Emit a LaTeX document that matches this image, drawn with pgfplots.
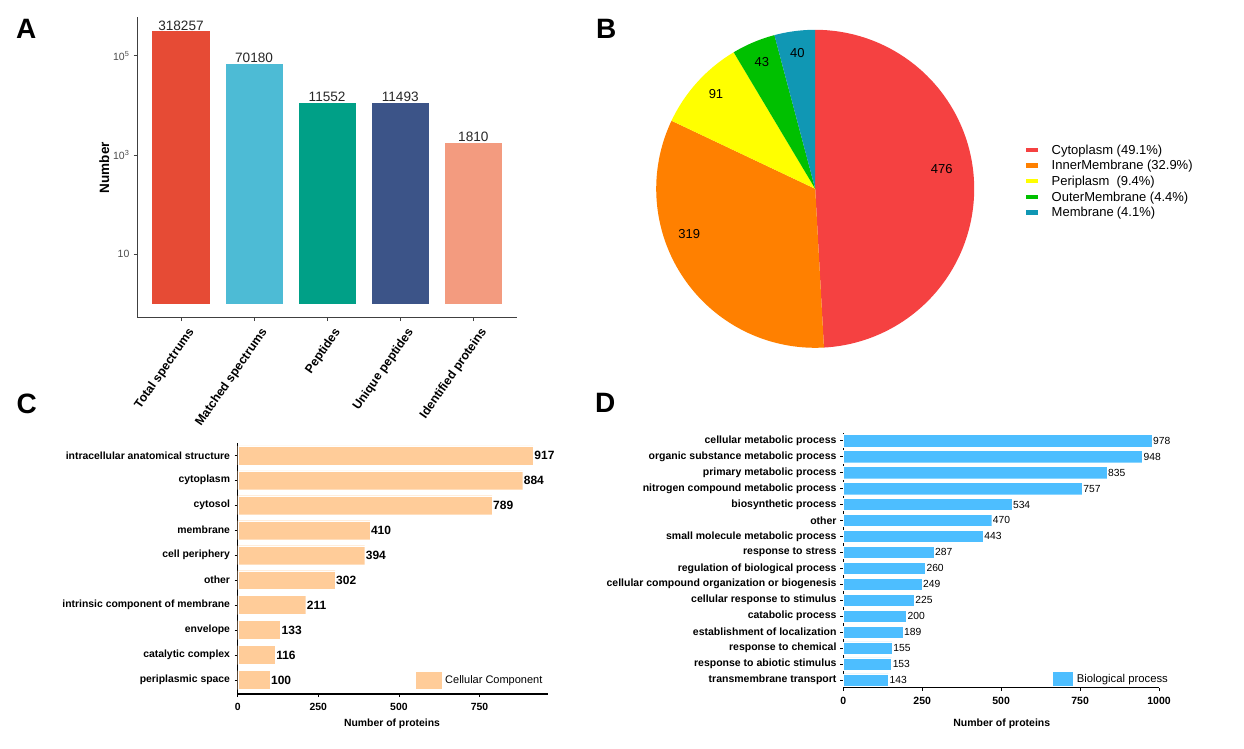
\documentclass[border=0pt]{standalone}
\usepackage{fontspec}
\setmainfont{Liberation Sans}
\usepackage{pgfplots}
\pgfplotsset{compat=1.18}
\pgfplotsset{/pgf/number format/assume math mode=true, /pgf/number format/1000 sep={}}
\newcommand{\fs}[1]{\fontsize{#1}{#1}\selectfont}

\definecolor{cA1}{HTML}{E64B35}
\definecolor{cA2}{HTML}{4DBBD5}
\definecolor{cA3}{HTML}{00A087}
\definecolor{cA4}{HTML}{3C5488}
\definecolor{cA5}{HTML}{F39B7F}
\definecolor{pRed}{HTML}{F54141}
\definecolor{pOrange}{HTML}{FF8000}
\definecolor{pYellow}{HTML}{FFFF00}
\definecolor{pGreen}{HTML}{00C000}
\definecolor{pBlue}{HTML}{1097B4}
\definecolor{cC}{HTML}{FFCC99}
\definecolor{cD}{HTML}{4DBEFF}

\begin{document}
\begin{tikzpicture}[x=1pt,y=1pt]
\useasboundingbox (0,0) rectangle (1244,748);

% panel letters
\foreach \l/\px/\py in {A/16/709.7, B/596/709.7, C/16.5/335, D/595/335.7}
  \node[anchor=base west, inner sep=0pt, font=\bfseries\fs{28}] at (\px,\py) {\l};

% ---------------- A: log bar chart ----------------
\begin{axis}[
  at={(137.1pt,430.3pt)}, anchor=south west,
  scale only axis, width=380.1pt, height=300.4pt,
  xmin=0.4, xmax=5.6,
  ymode=log, ymin=0.528, ymax=593000, log origin=0,
  axis lines=left, axis line style={-, draw=black!75, line width=1.2pt},
  tick align=outside, major tick length=3.5pt,
  tick style={draw=black!75, line width=0.9pt},
  minor tick style={draw=none}, minor tick length=0pt,
  xtick={1,2,3,4,5},
  xticklabels={Total spectrums, Matched spectrums, Peptides, Unique peptides, Identified proteins},
  xticklabel style={xshift=6pt, yshift=-5.5pt, rotate=55, anchor=north east, inner sep=0pt, font=\bfseries\fs{12.3}},
  ytick={10,1000,100000},
  yticklabels={10, 10\textsuperscript{3}, 10\textsuperscript{5}},
  yticklabel style={font=\fs{10.5}, text=black!70, inner sep=0pt, xshift=-4pt},
  ylabel={Number},
  ylabel style={font=\bfseries\fs{13.5}, at={(axis description cs:-0.0863,0.5)}, anchor=center},
  clip=false,
  nodes near coords, point meta=explicit symbolic,
  nodes near coords style={font=\fs{13.6}, text=black!85, anchor=south, inner sep=0.3pt},
]
\addplot[ybar, bar width=0.8, bar shift=0pt, fill=cA1, draw=white, line width=0.5pt] coordinates {(1,318257) [318257]};
\addplot[ybar, bar width=0.8, bar shift=0pt, fill=cA2, draw=white, line width=0.5pt] coordinates {(2,70180) [70180]};
\addplot[ybar, bar width=0.8, bar shift=0pt, fill=cA3, draw=white, line width=0.5pt] coordinates {(3,11552) [11552]};
\addplot[ybar, bar width=0.8, bar shift=0pt, fill=cA4, draw=white, line width=0.5pt] coordinates {(4,11493) [11493]};
\addplot[ybar, bar width=0.8, bar shift=0pt, fill=cA5, draw=white, line width=0.5pt] coordinates {(5,1810) [1810]};
\end{axis}

% ---------------- B: pie chart ----------------
\pgfmathsetmacro{\tot}{476+319+91+43+40}
\pgfmathsetmacro{\pa}{90}
\pgfmathsetmacro{\pb}{\pa-360*(476/\tot)}
\pgfmathsetmacro{\pc}{\pb-360*(319/\tot)}
\pgfmathsetmacro{\pd}{\pc-360*(91/\tot)}
\pgfmathsetmacro{\pe}{\pd-360*(43/\tot)}
\pgfmathsetmacro{\pf}{\pe-360*(40/\tot)}
\begin{axis}[
  at={(815.2pt,559.2pt)}, anchor=center,
  scale only axis, width=318pt, height=318pt,
  xmin=-1, xmax=1, ymin=-1, ymax=1,
  hide axis, clip=false,
  legend image code/.code={\fill[#1] (0pt,2.1pt) rectangle (12pt,6.5pt); \path[draw=none, fill=none] (0pt,0pt) -- (25.7pt,0pt);},
  legend cell align=left,
  legend style={draw=none, fill=none, at={(axis description cs:1.163,0.637)}, anchor=north west,
    inner sep=0pt, outer sep=0pt, row sep=3.6pt, column sep=0pt,
    nodes={inner sep=0pt, text height=9pt, text depth=3pt, font=\fs{13}, anchor=base west}},
]
\addplot[fill=pRed, draw=none, domain=\pb:\pa, samples=120] ({cos(x)},{sin(x)}) -- (axis cs:0,0) -- cycle;
\addplot[fill=pOrange, draw=none, domain=\pc:\pb, samples=90] ({cos(x)},{sin(x)}) -- (axis cs:0,0) -- cycle;
\addplot[fill=pYellow, draw=none, domain=\pd:\pc, samples=40] ({cos(x)},{sin(x)}) -- (axis cs:0,0) -- cycle;
\addplot[fill=pGreen, draw=none, domain=\pe:\pd, samples=30] ({cos(x)},{sin(x)}) -- (axis cs:0,0) -- cycle;
\addplot[fill=pBlue, draw=none, domain=\pf:\pe, samples=30] ({cos(x)},{sin(x)}) -- (axis cs:0,0) -- cycle;
\legend{Cytoplasm (49.1\%), InnerMembrane (32.9\%), Periplasm\hspace{7pt}(9.4\%), OuterMembrane (4.4\%), Membrane\hspace{3pt}(4.1\%)}
\node[font=\fs{13}] at (axis cs:0.796,0.123) {476};
\node[font=\fs{13}] at (axis cs:-0.792,-0.286) {319};
\node[font=\fs{13}] at (axis cs:-0.624,0.596) {91};
\node[font=\fs{13}] at (axis cs:-0.336,0.795) {43};
\node[font=\fs{13}] at (axis cs:-0.112,0.852) {40};
\end{axis}

% ---------------- C: cellular component ----------------
\begin{axis}[
  at={(237.7pt,54pt)}, anchor=south west,
  scale only axis, width=310.6pt, height=250.7pt,
  xmin=0, xmax=963.4, ymin=0.44, ymax=10.48,
  axis lines=left, axis line style={-, draw=black, line width=1.2pt},
  tick align=outside, major tick length=3pt,
  tick style={draw=black, line width=0.8pt},
  scaled ticks=false,
  xtick={0,250,500,750}, ytick={1,...,10},
  yticklabels={periplasmic space, catalytic complex, envelope, intrinsic component of membrane, other, cell periphery, membrane, cytosol, cytoplasm, intracellular anatomical structure},
  ticklabel style={font=\bfseries\fs{10.4}},
  yticklabel style={inner sep=0pt, xshift=-4.5pt},
  xticklabel style={inner sep=0pt, yshift=-6.5pt},
  xlabel={Number of proteins},
  xlabel style={font=\bfseries\fs{10.4}, at={(axis description cs:0.497,-0.1197)}, anchor=center},
  clip=false,
  legend cell align=left,
  legend style={draw=none, fill=none, at={(axis description cs:0.574,0.0866)}, anchor=north west,
    inner sep=0pt, outer sep=0pt, column sep=0pt,
    nodes={inner sep=0pt, font=\fs{11}, anchor=base west}},
]
\addplot[forget plot, xbar, bar width=0.76, bar shift=0pt, fill=cC, draw=white, line width=0.3pt,
  nodes near coords, point meta=x, nodes near coords align={horizontal},
  nodes near coords style={font=\bfseries\fs{12}, anchor=west, inner sep=1pt}]
  coordinates {(100,1) (116,2) (133,3) (211,4) (302,5) (394,6) (410,7) (789,8) (884,9) (917,10)};
\addlegendimage{legend image code/.code={\fill[cC] (0pt,-4.7pt) rectangle (25.3pt,11.3pt); \path[draw=none, fill=none] (0pt,0pt) -- (29pt,0pt);}}
\addlegendentry{Cellular Component}
\end{axis}

% ---------------- D: biological process ----------------
\begin{axis}[
  at={(843.3pt,60.3pt)}, anchor=south west,
  scale only axis, width=315.7pt, height=254.4pt,
  xmin=0, xmax=1000, ymin=0.52, ymax=16.46,
  axis lines=left, axis line style={-, draw=black, line width=1.2pt},
  tick align=outside, major tick length=3pt,
  tick style={draw=black, line width=0.8pt},
  scaled ticks=false,
  xtick={0,250,500,750,1000}, ytick={1,...,16},
  yticklabels={transmembrane transport, response to abiotic stimulus\ , response to chemical, establishment of localization\ , catabolic process, cellular response to stimulus, cellular compound organization or biogenesis, regulation of biological process, response to stress, small molecule metabolic process, other, biosynthetic process, nitrogen compound metabolic process, primary metabolic process, organic substance metabolic process, cellular metabolic process},
  ticklabel style={font=\bfseries\fs{10.5}},
  yticklabel style={inner sep=0pt, xshift=-3.6pt},
  xticklabel style={inner sep=0pt, yshift=-6.5pt},
  xlabel={Number of proteins},
  xlabel style={font=\bfseries\fs{10.5}, at={(axis description cs:0.502,-0.1427)}, anchor=center},
  clip=false,
  legend cell align=left,
  legend style={draw=none, fill=none, at={(axis description cs:0.663,0.0605)}, anchor=north west,
    inner sep=0pt, outer sep=0pt, column sep=0pt,
    nodes={inner sep=0pt, font=\fs{11.3}, anchor=base west}},
]
\addplot[forget plot, xbar, bar width=0.77, bar shift=0pt, fill=cD, draw=white, line width=0.3pt,
  nodes near coords, point meta=x, nodes near coords align={horizontal},
  nodes near coords style={font=\fs{10.3}, anchor=west, inner sep=1pt}]
  coordinates {(143,1) (153,2) (155,3) (189,4) (200,5) (225,6) (249,7) (260,8) (287,9) (443,10) (470,11) (534,12) (757,13) (835,14) (948,15) (978,16)};
\addlegendimage{legend image code/.code={\fill[cD] (0pt,-2.7pt) rectangle (19.3pt,10pt); \path[draw=none, fill=none] (0pt,0pt) -- (24pt,0pt);}}
\addlegendentry{Biological process}
\end{axis}
\end{tikzpicture}
\end{document}
